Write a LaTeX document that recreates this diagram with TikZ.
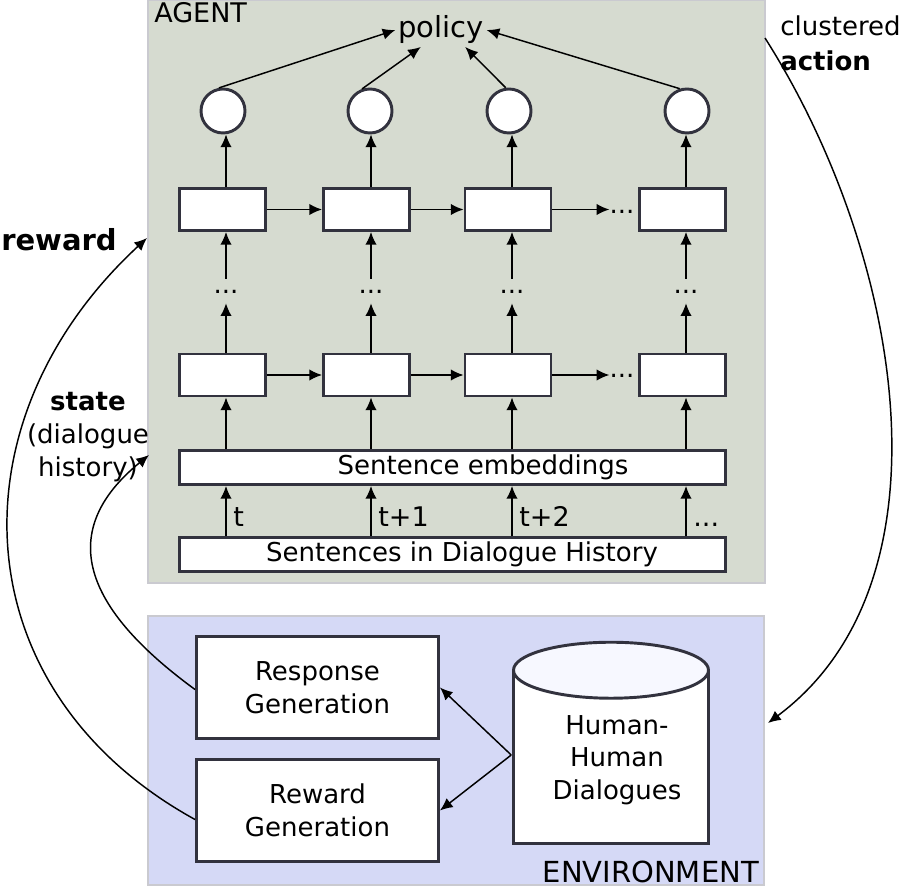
\documentclass[tikz,border=0pt]{standalone}
\usepackage{fontspec}
\setmainfont{DejaVu Sans}
\usetikzlibrary{arrows.meta,calc}
\definecolor{agentbg}{RGB}{214,219,208}
\definecolor{envbg}{RGB}{213,217,246}
\definecolor{framegray}{RGB}{202,202,208}
\definecolor{boxline}{RGB}{50,50,62}
\definecolor{cyltop}{RGB}{247,248,255}
\newcommand\dgbody{\fontsize{19.5pt}{24.4pt}\selectfont}
\newcommand\dglabel{\fontsize{19.5pt}{24.6pt}\selectfont}
\newcommand\dgaction{\fontsize{19.5pt}{26.25pt}\selectfont}
\newcommand\dgtick{\fontsize{20.25pt}{24pt}\selectfont}
\newcommand\dgagent{\fontsize{20.25pt}{24pt}\selectfont}
\newcommand\dgtitle{\fontsize{21.75pt}{26pt}\selectfont}
\begin{document}
\begin{tikzpicture}[x=0.75pt,y=-0.75pt,
  panel/.style={draw=framegray, line width=1.5pt, inner sep=0},
  cell/.style={draw=boxline, line width=2.2pt, fill=white, minimum width=64.5pt, minimum height=31.5pt, inner sep=0},
  bigbox/.style={draw=boxline, line width=2.2pt, fill=white, inner sep=0, font=\dgbody},
  unit/.style={circle, draw=boxline, line width=2.2pt, fill=white, minimum size=33pt, inner sep=0},
  arr/.style={-{Latex[length=9.5pt,width=8.5pt]}, line width=1.1pt},
  dotsnode/.style={inner sep=0, font=\dgbody, text height=3pt, text depth=0pt, minimum height=18pt},
  tick/.style={anchor=base west, inner sep=0, font=\dgtick, xshift=5pt},
  cyl/.style={draw=boxline, line width=2.2pt}
]
\useasboundingbox (0,0) rectangle (904,888);

% panels
\node[panel, fill=agentbg, minimum width=462.75pt, minimum height=436.5pt] (agent) at (456.5,291.5) {};
\node[panel, fill=envbg, minimum width=462pt, minimum height=201.75pt] (env) at (456,750.5) {};
\node[anchor=base west, inner sep=0, font=\dgagent] (agentlbl) at (154,23) {AGENT};
\node[anchor=base east, inner sep=0, font=\dgtitle] (envlbl) at (759,882) {ENVIRONMENT};

% policy and output units
\node[anchor=base, inner sep=2pt, font=\dgtitle] (policy) at (441,38) {policy};
\node[unit] (c1) at (223,111) {};
\node[unit] (c2) at (370,111) {};
\node[unit] (c3) at (509,111) {};
\node[unit] (c4) at (687,111) {};
\draw[arr] (c1.100) -- (policy.west);
\draw[arr] (c2.110) -- (policy.-140);
\draw[arr] (c3.98) -- (policy.-35);
\draw[arr] (c4.108) -- (policy.east);

% recurrent cells
\node[cell] (t1) at (222.5,209.5) {};
\node[cell] (t2) at (366.5,209.5) {};
\node[cell] (t3) at (508,209.5) {};
\node[cell] (t4) at (682.5,209.5) {};
\node[cell] (b1) at (222.5,375) {};
\node[cell] (b2) at (366.5,375) {};
\node[cell] (b3) at (508,375) {};
\node[cell] (b4) at (682.5,375) {};

\node[dotsnode] (d1) at (226,291) {...};
\node[dotsnode] (d2) at (371,291) {...};
\node[dotsnode] (d3) at (512,291) {...};
\node[dotsnode] (d4) at (686,291) {...};
\node[dotsnode] (h1) at (622,212) {...};
\node[dotsnode] (h2) at (622,376) {...};

\draw[arr] (t1.east) -- (t2.west);
\draw[arr] (t2.east) -- (t3.west);
\draw[arr] (t3.east) -- (h1.west |- t3.east);
\draw[arr] (b1.east) -- (b2.west);
\draw[arr] (b2.east) -- (b3.west);
\draw[arr] (b3.east) -- (h2.west |- b3.east);

\foreach \i in {1,2,3,4}{
  \draw[arr] (t\i.north -| d\i) -- (c\i.south -| d\i);
  \draw[arr] (d\i.north) -- (t\i.south -| d\i);
  \draw[arr] (b\i.north -| d\i) -- (d\i.south);
}

% sentence boxes
\node[bigbox, minimum width=409.5pt, minimum height=25.5pt] (se) at (452.5,467.5) {\hspace*{45.75pt}Sentence embeddings};
\node[bigbox, minimum width=409.5pt, minimum height=25.5pt] (sd) at (452.5,554.5) {\hspace*{14.25pt}Sentences in Dialogue History};

\foreach \i in {1,2,3,4}{
  \draw[arr] (se.north -| d\i) -- (b\i.south -| d\i);
}
\draw[arr] (sd.north -| d1) -- (se.south -| d1) node[tick, pos=0.2] {t};
\draw[arr] (sd.north -| d2) -- (se.south -| d2) node[tick, pos=0.2] {t+1};
\draw[arr] (sd.north -| d3) -- (se.south -| d3) node[tick, pos=0.2] {t+2};
\draw[arr] (sd.north -| d4) -- (se.south -| d4) node[tick, pos=0.2] {...};

% environment
\node[bigbox, minimum width=181.5pt, minimum height=76.5pt, align=center] (rg) at (317.5,687.5) {Response\\Generation};
\node[bigbox, minimum width=181.5pt, minimum height=76.5pt, align=center] (wg) at (317.5,810.5) {Reward\\Generation};

\node[inner sep=0, minimum width=146.25pt, minimum height=150.75pt] (hh) at (611,743) {};
\draw[cyl, fill=white] ($(hh.north west)+(0,28)$) -- (hh.south west) -- (hh.south east) -- ($(hh.north east)+(0,28)$) -- cycle;
\draw[cyl, fill=cyltop] ($(hh.north)+(0,28)$) ellipse [x radius=97.5, y radius=28];
\node[font=\dgbody, align=center, inner sep=0] (hhtxt) at (617,760) {Human-\\Human\\Dialogues};

\draw[arr] ($(hh.west)+(-2,12)$) -- (rg.east);
\draw[arr] ($(hh.west)+(-2,12)$) -- (wg.east);

% loop connectors
\coordinate (rwin) at (147,238);
\coordinate (stin) at (149,455);
\coordinate (acout) at (765,38);
\coordinate (acin) at (768,723);

\draw[arr] ($(wg.west)+(0,9)$) .. controls (-40,690) and (-50,420) .. (rwin);
\draw[arr] ($(rg.west)+(0,2)$) .. controls (100,620) and (45,540) .. (stin);
\draw[arr] (acout) .. controls (900,250) and (960,580) .. (acin);

% labels
\node[anchor=base west, inner sep=0, font=\dgtitle\bfseries] (rewardlbl) at (1,251) {reward};
\node[anchor=north, align=center, inner sep=0, font=\dglabel] (statelbl) at (88,392) {\textbf{state}\\(dialogue\\history)};
\node[anchor=north west, align=left, inner sep=0, font=\dgaction] (actlbl) at (780,15) {clustered\\\textbf{action}};
\end{tikzpicture}
\end{document}
